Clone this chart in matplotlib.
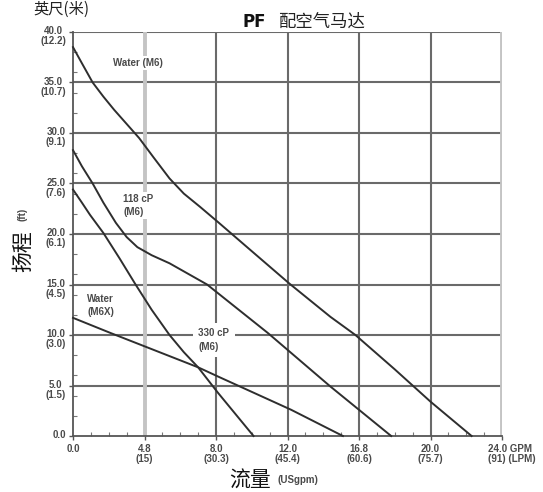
"""PF air motor pump curves: head (ft / m) vs flow (GPM / LPM)."""

import matplotlib

matplotlib.use("Agg")
import matplotlib.pyplot as plt
from matplotlib.ticker import MultipleLocator

# curve data
water_m6_x = [0, 0.5, 1.1, 1.7, 2.3, 3.0, 3.7, 4.5, 5.4, 6.2, 7.1, 8.1, 10.0, 12.1,
              14.4, 15.8, 18.0, 20.0, 22.3]
water_m6_y = [38.5, 36.9, 35.0, 33.6, 32.3, 30.9, 29.5, 27.6, 25.5, 24.0, 22.7, 21.2, 18.3,
              15.1, 11.8, 10.0, 6.6, 3.4, 0]

cp118_x = [0, 0.5, 1.1, 1.7, 2.4, 3.0, 3.6, 4.4, 5.4, 6.4, 7.5, 10.9, 14.4, 17.8]
cp118_y = [28.3, 26.7, 25.0, 23.1, 21.1, 19.7, 18.7, 17.9, 17.1, 16.1, 15.0, 10.2, 4.9, 0]

cp330_x = [0, 0.5, 0.95, 1.7, 2.6, 3.5, 4.4, 5.4, 6.2, 7.0, 8.1, 10.1]
cp330_y = [24.4, 23.1, 21.9, 20.1, 17.6, 15.0, 12.5, 10.0, 8.3, 6.8, 4.3, 0]

water_m6x_x = [0, 2.1, 7.0, 8.1, 12.2, 15.1]
water_m6x_y = [11.7, 10.2, 6.8, 5.9, 2.6, 0]

x_ticks = [0, 4, 8, 12, 16, 20, 24]
x_tick_labels = ["0.0", "4.8\n(15)", "8.0\n(30.3)", "12.0\n(45.4)", "16.8\n(60.6)",
                 "20.0\n(75.7)", "24.0 GPM\n(91) (LPM)"]
y_ticks = [0, 5, 10, 15, 20, 25, 30, 35, 40]
y_tick_labels = ["0.0", "5.0\n(1.5)", "10.0\n(3.0)", "15.0\n(4.5)", "20.0\n(6.1)",
                 "25.0\n(7.6)", "30.0\n(9.1)", "35.0\n(10.7)", "40.0\n(12.2)"]

CJK = ["Noto Sans CJK SC", "DejaVu Sans"]
SMALL = dict(family="Liberation Sans", fontweight="bold", fontsize=7, color="#4a4a4a")
GRID = "#6a6a6a"
LIGHT = "#c4c4c4"
CURVE = "#2e2e2e"

fig = plt.figure(figsize=(5.43, 4.92), dpi=100)
ax = fig.add_axes([73 / 543, 1 - 436 / 492, 429 / 543, 404 / 492])
ax.set_xlim(0, 24)
ax.set_ylim(0, 40)

# grid
for yv in y_ticks[1:]:
    ax.axhline(yv, color=GRID, lw=1.5, zorder=1)
for xv in x_ticks[1:-1]:
    if xv == 4:
        ax.axvline(xv, color=LIGHT, lw=2.8, zorder=1)
    else:
        ax.axvline(xv, color=GRID, lw=1.5, zorder=1)
ax.axvline(24, color=LIGHT, lw=2.8, zorder=1)

for s in ["top", "right"]:
    ax.spines[s].set_visible(False)
for s in ["left", "bottom"]:
    ax.spines[s].set_color("#555555")
    ax.spines[s].set_linewidth(1.3)

for xs, ys in [(water_m6_x, water_m6_y), (cp118_x, cp118_y),
               (cp330_x, cp330_y), (water_m6x_x, water_m6x_y)]:
    ax.plot(xs, ys, color=CURVE, lw=1.4, zorder=3, clip_on=False,
            solid_joinstyle="round")

# ticks
ax.set_xticks(x_ticks)
ax.set_yticks(y_ticks)
ax.set_xticklabels([])
ax.set_yticklabels([])
ax.xaxis.set_minor_locator(MultipleLocator(1))
ax.yaxis.set_minor_locator(MultipleLocator(2))
ax.tick_params(which="major", length=3, width=1.0, color="#555555", direction="out")
ax.tick_params(which="minor", length=3, width=0.8, color="#777777", direction="in")

for xv, lab in zip(x_ticks, x_tick_labels):
    if xv == 24:
        ax.annotate(lab, xy=(xv, 0), xycoords=("data", "axes fraction"),
                    xytext=(-10, -6), textcoords="offset points",
                    ha="left", va="top", linespacing=1.0, **SMALL)
    else:
        ax.annotate(lab, xy=(xv, 0), xycoords=("data", "axes fraction"),
                    xytext=(0, -6), textcoords="offset points",
                    ha="center", va="top", multialignment="center",
                    linespacing=1.0, **SMALL)

for yv, lab in zip(y_ticks, y_tick_labels):
    ax.annotate(lab, xy=(0, yv), xycoords=("axes fraction", "data"),
                xytext=(-5, 4), textcoords="offset points",
                ha="right", va="top", multialignment="center",
                linespacing=1.0, **SMALL)

# curve labels
box = dict(facecolor="white", edgecolor="none", pad=1.5)
ax.text(3.65, 36.9, "Water (M6)", ha="center", va="center", bbox=box, zorder=2, **SMALL)
ax.text(2.8, 22.8, "118 cP\n(M6)", ha="left", va="center", linespacing=1.4,
        bbox=box, zorder=2, **SMALL)
ax.text(0.8, 12.9, "Water\n(M6X)", ha="left", va="center", linespacing=1.4,
        bbox=box, zorder=2, **SMALL)
ax.text(7.0, 9.5, "330 cP\n(M6)", ha="left", va="center", linespacing=1.4,
        bbox=dict(facecolor="white", edgecolor="none", pad=4), zorder=2, **SMALL)

# titles and axis names
fig.text(243 / 543, 1 - 22 / 492, "PF", family="DejaVu Sans", fontweight="bold",
         fontsize=12, ha="left", va="center", color="#111111")
fig.text(278 / 543, 1 - 22 / 492, "配空气马达", family=CJK, fontsize=12.5,
         ha="left", va="center", color="#222222")
fig.text(33 / 543, 1 - 1 / 492, "英尺(米)", family=CJK, fontsize=11,
         ha="left", va="top", color="#222222")

fig.text(23 / 543, 1 - 251 / 492, "扬程", family=CJK, fontsize=15, rotation=90,
         ha="center", va="center", color="#111111")
fig.text(22 / 543, 1 - 214 / 492, "(ft)", rotation=90, ha="center", va="center", **SMALL)
fig.text(250 / 543, 1 - 481 / 492, "流量", family=CJK, fontsize=15,
         ha="center", va="center", color="#111111")
fig.text(278 / 543, 1 - 480 / 492, "(USgpm)", ha="left", va="center", **SMALL)

fig.savefig("out.png", dpi=100)
